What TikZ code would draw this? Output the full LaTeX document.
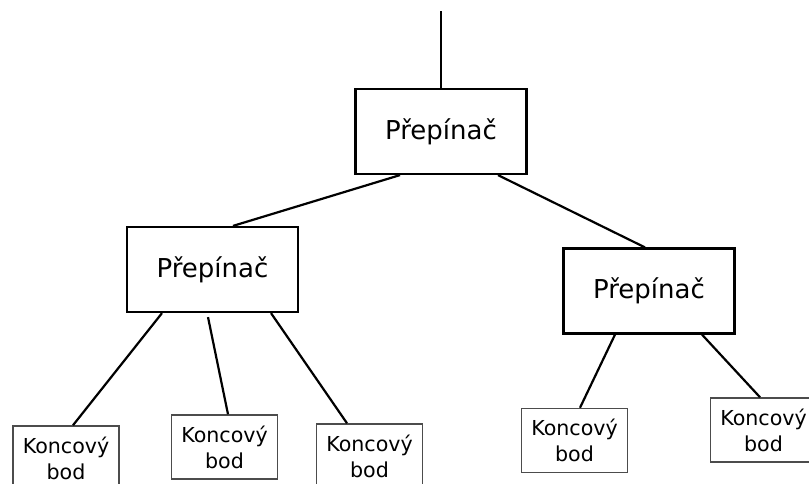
\documentclass[tikz,border=0pt]{standalone}
\usepackage{fontspec}
\setmainfont{DejaVu Sans}
\usetikzlibrary{calc}
\definecolor{endgray}{rgb}{0.3,0.3,0.3}
\tikzset{
  switchbox/.style={draw=black, line width=2.2pt, minimum width=171pt, minimum height=85pt, inner sep=0pt, font=\fontsize{26}{31}\selectfont},
  endbox/.style={draw=endgray, line width=1.5pt, minimum width=106pt, minimum height=64pt, inner sep=0pt, align=center, font=\fontsize{20.6}{26}\selectfont},
  link/.style={line width=2.2pt, black}
}
\begin{document}
\begin{tikzpicture}[x=1pt,y=-1pt]
\useasboundingbox (0,0) rectangle (809,483);
\clip (0,0) rectangle (809,483);
\node[switchbox] (top) at (441,131.5) {Přepínač};
\node[switchbox] (sw1) at (212.5,269.5) {Přepínač};
\node[switchbox] (sw2) at (649,291) {Přepínač};
\node[endbox] (e1) at (66,458) {Koncový\\bod};
\node[endbox] (e2) at (224.5,447) {Koncový\\bod};
\node[endbox] (e3) at (369.5,456) {Koncový\\bod};
\node[endbox] (e4) at (574.5,440.5) {Koncový\\bod};
\node[endbox] (e5) at (763.5,430) {Koncový\\bod};
\coordinate (up) at (441,11);
\draw[link] (up) -- (top.north);
\draw[link] ([xshift=-41pt]top.south) -- ([xshift=20.5pt]sw1.north);
\draw[link] ([xshift=57pt]top.south) -- ([xshift=-4pt]sw2.north);
\draw[link] ([xshift=-50.5pt]sw1.south) -- ([xshift=7pt]e1.north);
\draw[link] ([xshift=-4.5pt,yshift=-4pt]sw1.south) -- ([xshift=3.5pt]e2.north);
\draw[link] ([xshift=58.5pt]sw1.south) -- ([xshift=-22.5pt]e3.north);
\draw[link] ([xshift=-34pt]sw2.south) -- ([xshift=5.5pt]e4.north);
\draw[link] ([xshift=53pt]sw2.south) -- ([xshift=-3.5pt]e5.north);
\end{tikzpicture}
\end{document}
